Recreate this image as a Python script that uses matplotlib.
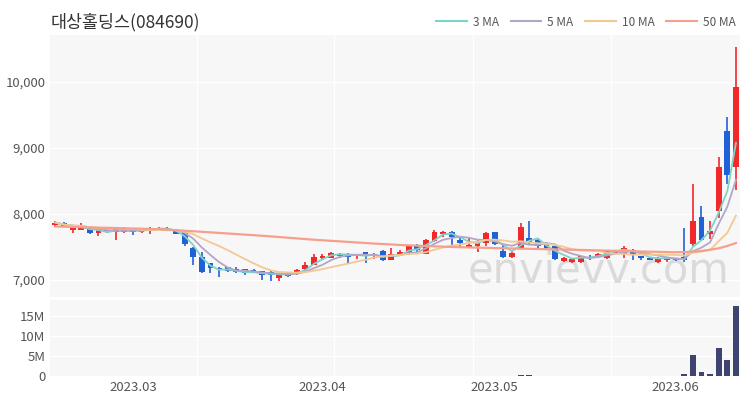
import matplotlib
matplotlib.use('Agg')
import matplotlib.pyplot as plt
from matplotlib.ticker import FuncFormatter, FixedLocator
import pandas as pd

plt.rcParams['font.family'] = ['Noto Sans CJK KR', 'DejaVu Sans']

title = '대상홀딩스(084690)'

# daily candles, 2023-02-16 .. 2023-06-13
opens = [7840, 7860, 7750, 7760, 7780, 7710, 7760, 7720, 7720, 7770,
         7720, 7740, 7770, 7790, 7760, 7720, 7480, 7350, 7250, 7180,
         7190, 7160, 7160, 7150, 7130, 7120, 7030, 7100, 7100, 7160,
         7230, 7340, 7340, 7370, 7400, 7370, 7420, 7370, 7440, 7310,
         7380, 7400, 7530, 7400, 7590, 7700, 7730, 7600, 7490, 7510,
         7560, 7720, 7440, 7350, 7480, 7640, 7600, 7550, 7510, 7280,
         7270, 7270, 7350, 7350, 7340, 7410, 7390, 7460, 7360, 7340,
         7270, 7310, 7330, 7350, 7540, 7960, 7690, 8050, 9260, 8710]
highs = [7900, 7880, 7800, 7870, 7790, 7760, 7770, 7780, 7800, 7790,
         7780, 7800, 7800, 7800, 7770, 7740, 7500, 7430, 7260, 7190,
         7200, 7200, 7170, 7170, 7140, 7130, 7110, 7120, 7160, 7270,
         7390, 7400, 7420, 7410, 7410, 7400, 7430, 7410, 7450, 7490,
         7450, 7520, 7540, 7620, 7760, 7740, 7740, 7660, 7650, 7600,
         7730, 7730, 7530, 7420, 7870, 7890, 7620, 7570, 7520, 7350,
         7330, 7370, 7380, 7410, 7460, 7460, 7520, 7470, 7370, 7350,
         7350, 7350, 7340, 7780, 8450, 8120, 7900, 8870, 9470, 10530]
lows = [7810, 7800, 7710, 7750, 7700, 7670, 7710, 7610, 7710, 7680,
        7710, 7700, 7760, 7740, 7690, 7520, 7230, 7100, 7110, 7050,
        7120, 7100, 7080, 7100, 7000, 6980, 6980, 7040, 7080, 7150,
        7220, 7320, 7330, 7330, 7260, 7320, 7250, 7320, 7290, 7300,
        7360, 7380, 7400, 7390, 7580, 7650, 7530, 7480, 7480, 7430,
        7520, 7530, 7340, 7340, 7470, 7540, 7490, 7470, 7300, 7270,
        7260, 7260, 7300, 7340, 7320, 7400, 7330, 7300, 7300, 7300,
        7260, 7270, 7280, 7270, 7520, 7600, 7620, 7940, 8460, 8360]
closes = [7870, 7810, 7790, 7810, 7710, 7750, 7720, 7770, 7770, 7720,
          7760, 7790, 7790, 7750, 7700, 7540, 7350, 7120, 7180, 7165,
          7130, 7120, 7110, 7120, 7080, 7080, 7100, 7060, 7150, 7230,
          7350, 7360, 7410, 7400, 7350, 7390, 7360, 7400, 7300, 7390,
          7430, 7510, 7460, 7610, 7730, 7730, 7650, 7560, 7530, 7580,
          7710, 7540, 7350, 7410, 7810, 7560, 7520, 7490, 7320, 7330,
          7320, 7360, 7330, 7400, 7450, 7450, 7480, 7390, 7330, 7310,
          7340, 7340, 7300, 7300, 7900, 7610, 7740, 8710, 8590, 9930]
volumes = [60000, 50000, 60000, 50000, 60000, 50000, 40000, 60000, 40000, 50000,
           40000, 50000, 40000, 40000, 60000, 80000, 100000, 90000, 60000, 50000,
           40000, 40000, 40000, 40000, 50000, 60000, 60000, 40000, 50000, 60000,
           80000, 60000, 50000, 50000, 60000, 40000, 50000, 40000, 60000, 70000,
           50000, 70000, 60000, 90000, 100000, 70000, 80000, 60000, 50000, 60000,
           80000, 70000, 70000, 50000, 150000, 300000, 90000, 60000, 80000, 50000,
           40000, 50000, 40000, 50000, 60000, 50000, 70000, 50000, 40000, 40000,
           50000, 40000, 50000, 400000, 5200000, 900000, 400000, 7100000, 3900000, 17500000]

# 50-day average (needs history before the window)
ma50 = [7810, 7807, 7803, 7800, 7797, 7793, 7790, 7787, 7783, 7780,
        7777, 7773, 7770, 7762, 7754, 7746, 7738, 7730, 7721, 7713,
        7704, 7696, 7687, 7679, 7670, 7660, 7650, 7640, 7630, 7620,
        7610, 7602, 7593, 7585, 7577, 7568, 7560, 7552, 7545, 7538,
        7530, 7525, 7520, 7515, 7510, 7505, 7500, 7497, 7493, 7490,
        7487, 7483, 7480, 7477, 7474, 7472, 7469, 7466, 7463, 7461,
        7458, 7455, 7452, 7448, 7445, 7442, 7439, 7436, 7432, 7429,
        7426, 7423, 7420, 7422, 7428, 7440, 7458, 7480, 7515, 7560]

month_labels = ['2023.03', '2023.04', '2023.05', '2023.06']
month_index = [9, 31, 51, 72]

up_color = '#f0282a'
down_color = '#1f62d6'
bg = '#f7f7f7'

df = pd.DataFrame({'o': opens, 'h': highs, 'l': lows, 'c': closes, 'v': volumes})
x = range(len(df))
ma3 = df['c'].rolling(3, min_periods=1).mean()
ma5 = df['c'].rolling(5, min_periods=1).mean()
ma10 = df['c'].rolling(10, min_periods=1).mean()

fig = plt.figure(figsize=(7.5, 4), dpi=100)
ax = fig.add_axes([0.067, 0.2575, 0.92, 0.655])
axv = fig.add_axes([0.067, 0.06, 0.92, 0.19], sharex=ax)

for a in (ax, axv):
    a.set_facecolor(bg)
    for s in a.spines.values():
        s.set_visible(False)
    a.tick_params(which='both', length=0, labelsize=9.5, colors='#555555')
    a.grid(True, axis='y', color='white', linewidth=1)
    a.xaxis.set_minor_locator(FixedLocator([16.4, 32.3, 48.5, 64.5]))
    a.grid(True, axis='x', which='minor', color='white', linewidth=1)
    a.set_axisbelow(True)

colors = [up_color if c >= o else down_color for o, c in zip(df['o'], df['c'])]
bottoms = [min(o, c) for o, c in zip(df['o'], df['c'])]
heights = [max(abs(c - o), 8) for o, c in zip(df['o'], df['c'])]
ax.vlines(x, df['l'], df['h'], colors=colors, linewidth=1.2, zorder=2)
ax.bar(x, heights, bottom=bottoms, width=0.68, color=colors, zorder=3)

ax.plot(x, ma3, color='#7fd3c9', linewidth=1.3, zorder=4)
ax.plot(x, ma5, color='#b2a6c9', linewidth=1.3, zorder=4)
ax.plot(x, ma10, color='#f2c993', linewidth=1.3, zorder=4)
ax.plot(x, ma50, color='#f5a08e', linewidth=1.6, zorder=4)

ax.set_ylim(6742, 10712)
ax.set_yticks([7000, 8000, 9000, 10000])
ax.yaxis.set_major_formatter(FuncFormatter(lambda v, p: f'{int(v):,}'))
ax.set_xlim(-0.6, 79.5)
plt.setp(ax.get_xticklabels(), visible=False)

ax.text(0.985, 0.02, 'envievv.com', transform=ax.transAxes, fontsize=30,
        color='#dadada', ha='right', va='bottom', zorder=1,
        family=['DejaVu Sans'])

axv.bar(x, df['v'], width=0.68, color='#3f4370')
axv.set_ylim(0, 19e6)
axv.set_yticks([0, 5e6, 10e6, 15e6])
axv.yaxis.set_major_formatter(FuncFormatter(lambda v, p: '0' if v == 0 else f'{int(v / 1e6)}M'))
axv.set_xticks(month_index)
axv.set_xticklabels(month_labels)

fig.text(0.067, 0.945, title, fontsize=12.5, color='#333333', va='center', ha='left')

handles = [plt.Line2D([], [], color=c, linewidth=1.5) for c in
           ['#7fd3c9', '#b2a6c9', '#f2c993', '#f5a08e']]
fig.legend(handles, ['3 MA', '5 MA', '10 MA', '50 MA'], loc='center right',
           bbox_to_anchor=(0.995, 0.945), ncol=4, frameon=False, fontsize=8.5,
           handlelength=2.6, columnspacing=1.0, handletextpad=0.5,
           labelcolor='#555555')

fig.savefig('out.png', dpi=100, facecolor='white')
